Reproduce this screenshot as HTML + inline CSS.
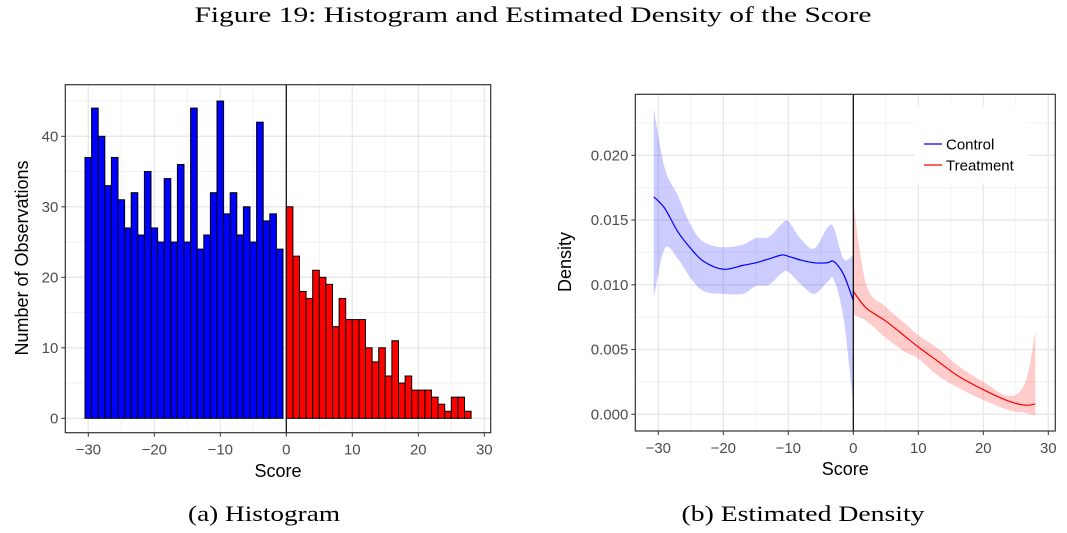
<!DOCTYPE html>
<html><head><meta charset="utf-8"><style>
html,body{margin:0;padding:0;background:#fff;}
svg{display:block;}
.tick{font-family:"Liberation Sans",sans-serif;font-size:15px;fill:#4d4d4d;}
.atitle{font-family:"Liberation Sans",sans-serif;font-size:18px;fill:#000;}
.serif{font-family:"Liberation Serif",serif;font-size:22px;fill:#000;}
</style></head><body>
<svg id="fig" width="1067" height="533" viewBox="0 0 1067 533">
<text class="serif" x="533" y="22" text-anchor="middle" textLength="677" lengthAdjust="spacingAndGlyphs">Figure 19: Histogram and Estimated Density of the Score</text>
<text class="serif" x="264" y="521" text-anchor="middle" textLength="152" lengthAdjust="spacingAndGlyphs">(a) Histogram</text>
<text class="serif" x="803" y="521" text-anchor="middle" textLength="243" lengthAdjust="spacingAndGlyphs">(b) Estimated Density</text>
<g id="hist"></g>
<g id="dens"></g>
</svg>
<script>
// Histogram data
const controlBins = [-30,-29,-28,-27,-26,-25,-24,-23,-22,-21,-20,-19,-18,-17,-16,-15,-14,-13,-12,-11,-10,-9,-8,-7,-6,-5,-4,-3,-2,-1];
const controlCounts = [37,44,40,33,37,31,27,32,26,35,27,25,34,25,36,25,44,24,26,32,45,29,32,26,30,25,42,28,29,24];
const treatBins = [0,1,2,3,4,5,6,7,8,9,10,11,12,13,14,15,16,17,18,19,20,21,22,23,24,25,26,27];
const treatCounts = [30,23,18,17,21,20,19,13,17,14,14,14,10,8,10,6,11,5,6,4,4,4,3,2,1,3,3,1];
const histXTicks = [-30,-20,-10,0,10,20,30];
const histYTicks = [0,10,20,30,40];

// Density data
const ctrlX = [-30.7,-29,-27,-25,-23,-20,-17,-15,-13,-11,-10,-8,-6,-4,-3,-1.5,0];
const ctrlY = [0.0168,0.0159,0.0141,0.0128,0.0118,0.0112,0.0115,0.0117,0.0120,0.0123,0.0122,0.0119,0.0117,0.0117,0.0118,0.0108,0.0088];
const ctrlLo = [0.0090,0.0128,0.0120,0.0105,0.0095,0.0093,0.0093,0.0099,0.0100,0.0109,0.0110,0.0100,0.0093,0.0102,0.0104,0.0074,0.0007];
const ctrlHi = [0.0236,0.0190,0.0169,0.0146,0.0133,0.0129,0.0131,0.0136,0.0137,0.0147,0.0149,0.0135,0.0128,0.0144,0.0144,0.0120,0.0123];
const trtX = [0,2,5,8,10,13,16,20,24,26.5,28];
const trtY = [0.0095,0.0082,0.0072,0.0060,0.0052,0.0041,0.0030,0.0019,0.0010,0.0007,0.0008];
const trtLo = [0.0077,0.0072,0.0059,0.0048,0.0043,0.0030,0.0021,0.0011,0.0003,0.0001,-0.0001];
const trtHi = [0.0163,0.0100,0.0083,0.0070,0.0061,0.0051,0.0038,0.0025,0.0014,0.0025,0.0064];
const densXTicks = [-30,-20,-10,0,10,20,30];
const densYTicks = [0,0.005,0.010,0.015,0.020];

const NS='http://www.w3.org/2000/svg';
function mk(parent,tag,attrs,text){const e=document.createElementNS(NS,tag);for(const k in attrs)e.setAttribute(k,attrs[k]);if(text!==undefined)e.textContent=text;parent.appendChild(e);return e;}
function lin(d0,d1,r0,r1){return v=>r0+(v-d0)*(r1-r0)/(d1-d0);}
function smoothPath(pts){let d='M'+pts[0][0]+','+pts[0][1];for(let i=0;i<pts.length-1;i++){const p0=pts[Math.max(0,i-1)],p1=pts[i],p2=pts[i+1],p3=pts[Math.min(pts.length-1,i+2)];const c1x=p1[0]+(p2[0]-p0[0])/6,c1y=p1[1]+(p2[1]-p0[1])/6,c2x=p2[0]-(p3[0]-p1[0])/6,c2y=p2[1]-(p3[1]-p1[1])/6;d+=` C${c1x},${c1y} ${c2x},${c2y} ${p2[0]},${p2[1]}`;}return d;}
function fmtMinus(v){return v<0?'\u2212'+Math.abs(v):String(v);}

function panel(g,L,T,R,B,sx,sy,xMinor,yMinor,xt,yt,yfmt){
  for(const v of xMinor){const el=mk(g,'line',{x1:sx(v),x2:sx(v),y1:T,y2:B,stroke:'#f2f2f2','stroke-width':1});}
  for(const v of yMinor){const el=mk(g,'line',{x1:L,x2:R,y1:sy(v),y2:sy(v),stroke:'#f2f2f2','stroke-width':1});}
  for(const v of xt){const el=mk(g,'line',{x1:sx(v),x2:sx(v),y1:T,y2:B,stroke:'#e8e8e8','stroke-width':1.3});
    const tk=mk(g,'line',{x1:sx(v),x2:sx(v),y1:B,y2:B+4,stroke:'#333','stroke-width':1});
    const t=mk(g,'text',{x:sx(v),y:B+22,'text-anchor':'middle',class:'tick'},fmtMinus(v));}
  for(const v of yt){const el=mk(g,'line',{x1:L,x2:R,y1:sy(v),y2:sy(v),stroke:'#e8e8e8','stroke-width':1.3});
    const tk=mk(g,'line',{x1:L-4,x2:L,y1:sy(v),y2:sy(v),stroke:'#333','stroke-width':1});
    const t=mk(g,'text',{x:L-7,y:sy(v)+5,'text-anchor':'end',class:'tick'},yfmt(v));}
}

// Histogram
(function(){
  const g=document.getElementById('hist');
  const L=65.3,T=84.7,R=490.7,B=432.7;
  const sx=lin(0,10,286.3,352.3), sy=lin(0,40,418.3,136.3);
  panel(g,L,T,R,B,sx,sy,[-25,-15,-5,5,15,25],[5,15,25,35,45],histXTicks,histYTicks,v=>String(v));
  controlBins.forEach((b,i)=>{const x0=sx(b-0.5),x1=sx(b+0.5);const r=mk(g,'rect',{x:x0,y:sy(controlCounts[i]),width:x1-x0,height:sy(0)-sy(controlCounts[i]),fill:'#0000ff',stroke:'#000','stroke-width':1});
    });
  treatBins.forEach((b,i)=>{const x0=sx(b),x1=sx(b+1);const r=mk(g,'rect',{x:x0,y:sy(treatCounts[i]),width:x1-x0,height:sy(0)-sy(treatCounts[i]),fill:'#ff0000',stroke:'#000','stroke-width':1});
    });
  const c=mk(g,'line',{x1:sx(0),x2:sx(0),y1:T,y2:B,stroke:'#000','stroke-width':1.2});
  const f=mk(g,'rect',{x:L,y:T,width:R-L,height:B-T,fill:'none',stroke:'#333','stroke-width':1.2});
  const xl=mk(g,'text',{x:(L+R)/2,y:477,'text-anchor':'middle',class:'atitle'},'Score');
  const yl=mk(g,'text',{x:0,y:0,'text-anchor':'middle',class:'atitle',transform:'translate(28,258) rotate(-90)'},'Number of Observations');
})();

// Density
(function(){
  const g=document.getElementById('dens');
  const L=635.3,T=94.3,R=1055.3,B=431;
  const sx=lin(0,10,853.3,918.3), sy=lin(0,0.02,414.3,155.3);
  panel(g,L,T,R,B,sx,sy,[-25,-15,-5,5,15,25],[0.0025,0.0075,0.0125,0.0175,0.0225],densXTicks,densYTicks,v=>v.toFixed(3));
  function band(xs,lo,hi,col,name){const up=xs.map((x,i)=>[sx(x),sy(hi[i])]);const dn=xs.map((x,i)=>[sx(x),sy(lo[i])]).reverse();
    let d=smoothPath(up);const d2=smoothPath(dn).replace('M','L');const p=mk(g,'path',{d:d+' '+d2+' Z',fill:col,'fill-opacity':0.2,stroke:'none'});
    }
  function line(xs,ys,col,name){const p=mk(g,'path',{d:smoothPath(xs.map((x,i)=>[sx(x),sy(ys[i])])),fill:'none',stroke:col,'stroke-width':1.2});
    }
  band(ctrlX,ctrlLo,ctrlHi,'#0000ff','control-confidence-band');
  band(trtX,trtLo,trtHi,'#ff0000','treatment-confidence-band');
  line(ctrlX,ctrlY,'#0000ff','control-density-line');
  line(trtX,trtY,'#ff0000','treatment-density-line');
  const c=mk(g,'line',{x1:sx(0),x2:sx(0),y1:T,y2:B,stroke:'#000','stroke-width':1.2});
  const f=mk(g,'rect',{x:L,y:T,width:R-L,height:B-T,fill:'none',stroke:'#333','stroke-width':1.2});
  const lg=mk(g,'g',{});
  mk(lg,'rect',{x:915,y:107,width:113,height:76,fill:'#fff'});
  const e1=mk(lg,'g',{});
  mk(e1,'line',{x1:924,x2:942,y1:144,y2:144,stroke:'#0000ff','stroke-width':1.2});
  mk(e1,'text',{x:946,y:149.5,class:'tick',style:'fill:#000'},'Control');
  const e2=mk(lg,'g',{});
  mk(e2,'line',{x1:924,x2:942,y1:165,y2:165,stroke:'#ff0000','stroke-width':1.2});
  mk(e2,'text',{x:946,y:170.5,class:'tick',style:'fill:#000'},'Treatment');
  const xl=mk(g,'text',{x:(L+R)/2,y:475,'text-anchor':'middle',class:'atitle'},'Score');
  const yl=mk(g,'text',{x:0,y:0,'text-anchor':'middle',class:'atitle',transform:'translate(571,262) rotate(-90)'},'Density');
})();
</script>
</body></html>
